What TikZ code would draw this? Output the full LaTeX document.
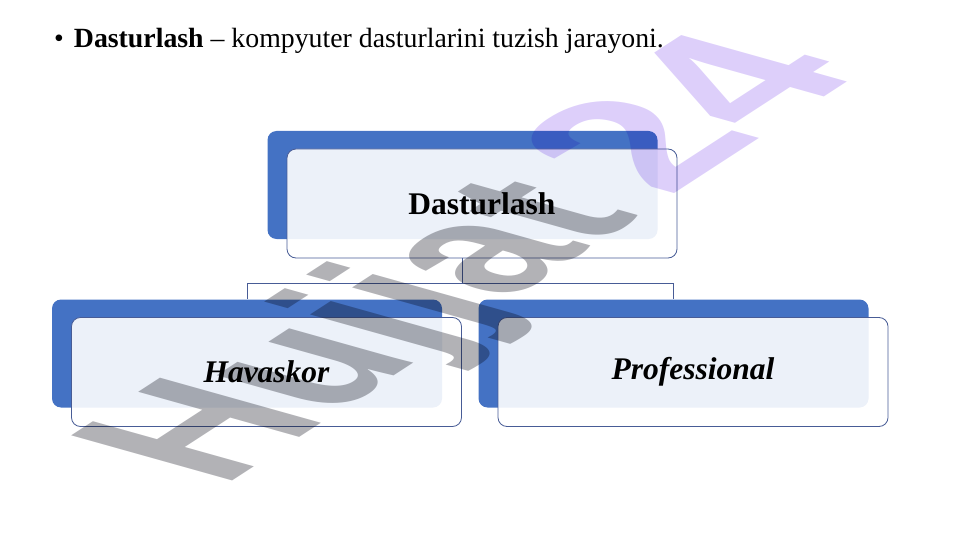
\documentclass[tikz,border=0pt]{standalone}
\usepackage{fontspec}
\setmainfont{Liberation Serif}
\newfontfamily\markfont{Liberation Sans}
\usepackage{tikz}
\usetikzlibrary{positioning}
\definecolor{boxblue}{RGB}{68,114,196}
\definecolor{linenavy}{RGB}{72,92,150}
\definecolor{markgray}{RGB}{178,178,182}
\definecolor{marklilac}{RGB}{221,207,250}
\tikzset{%
    back node/.style={%
        rectangle, rounded corners=9pt, fill=boxblue, inner sep=0pt,
        minimum width=390pt, minimum height=108pt
    },
    front node/.style={%
        rectangle, rounded corners=9pt, draw=linenavy, line width=0.8pt,
        fill=white, fill opacity=0.9, text opacity=1, inner sep=0pt,
        minimum width=390pt, minimum height=109pt,
        font=\fontsize{31.5}{36}\selectfont\bfseries
    },
    mark node/.style={%
        anchor=base west, inner sep=0pt, transform shape,
        font=\markfont\bfseries\fontsize{10}{12}\selectfont
    }
}

\begin{document}
\begin{tikzpicture}[x=1pt,y=-1pt,
  link/.style={draw=linenavy,line width=0.8pt}]

  \useasboundingbox (0,0) rectangle (961,540);
  \node[anchor=base west,inner sep=0pt,font=\fontsize{27.8}{33}\selectfont] (title) at (54,48)
    {\textbullet\hspace{10pt}\textbf{Dasturlash} -- kompyuter dasturlarini tuzish jarayoni.};

  \node[back node] (rootb) at (462.5,185) {};
  \node[front node] (root) at ([xshift=19.5pt,yshift=-18.5pt]rootb.center) {Dasturlash};
  \node[back node] (havb) at (247,353.5) {};
  \node[front node] (hav) at ([xshift=19.5pt,yshift=-18.5pt]havb.center) {\itshape Havaskor};
  \node[back node] (profb) at (673.5,353.5) {};
  \node[front node] (prof) at ([xshift=19.5pt,yshift=-18.5pt]profb.center) {\itshape Professional};

  \draw[link] (rootb.center |- root.south) -- ++(0,25) -| (havb.north);
  \draw[link] (rootb.center |- root.south) -- ++(0,25) -| (profb.north);

  % watermark
  \begin{scope}[blend mode=multiply]
    \begin{scope}[shift={(219,489)},cm={15.1,9.81,-23.4,6.56,(0,0)}]
      \node[mark node,text=markgray] (mark1) {Hujjat};
    \end{scope}
    \begin{scope}[shift={(665,200)},cm={17.62,11.45,-24.08,6.75,(0,0)}]
      \node[mark node,text=marklilac] (mark2) {24};
    \end{scope}
  \end{scope}
\end{tikzpicture}
\end{document}
